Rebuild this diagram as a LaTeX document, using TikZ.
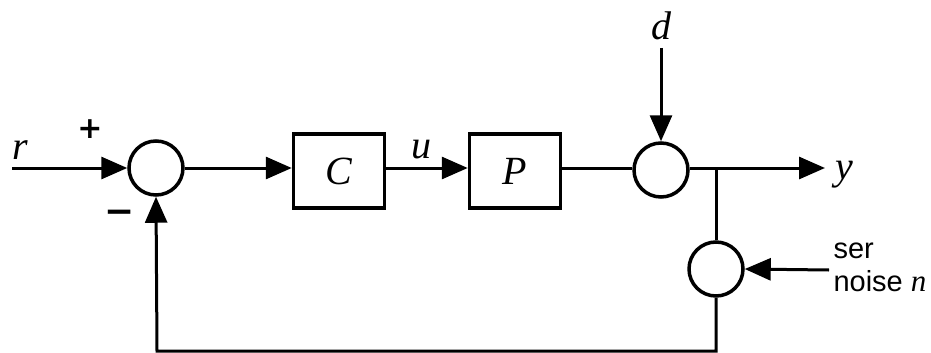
\documentclass[tikz,border=0pt]{standalone}
\usepackage{fontspec}
\setmainfont{Liberation Serif}
\newfontfamily\lsans{Liberation Sans}
\newfontfamily\dvsb{DejaVu Sans Bold}
\usetikzlibrary{arrows.meta}
\begin{document}
\begin{tikzpicture}[x=1pt,y=-1pt,
  line width=3pt,
  sumj/.style={circle,draw,line width=3.5pt,minimum size=54pt,inner sep=0pt},
  blk/.style={rectangle,draw,line width=3.5pt,minimum width=91pt,minimum height=74pt,inner sep=0pt,font=\fontsize{40}{48}\selectfont\itshape},
  lbl/.style={font=\fontsize{40}{48}\selectfont\itshape,inner sep=0pt},
  sgn/.style={font=\fontsize{30}{36}\selectfont\dvsb,inner sep=0pt},
  arr/.style={-{Triangle[length=26pt,width=22pt]}}]
\useasboundingbox (0,0) rectangle (931,353);
\node[sumj] (s1) at (156,168) {};
\node[blk] (C) at (339,171) {C};
\node[blk] (P) at (515,171) {P};
\node[sumj] (s2) at (661,170) {};
\node[sumj] (s3) at (716,269) {};
\coordinate (rin) at (12,168);
\coordinate (din) at (661,48);
\coordinate (br) at (716,168);
\coordinate (yout) at (825,168);
\coordinate (nin) at (829,270);
\coordinate (fb1) at (716,351);
\coordinate (fb2) at (157,351);
\draw[arr] (rin) -- (s1.west);
\draw[arr] (s1.east) -- (C.west |- s1.east);
\draw[arr] (C.east |- s1.east) -- (P.west |- s1.east);
\draw (P.east |- s1.east) -- (s2.west |- s1.east);
\draw[arr] (din) -- (s2.north);
\draw[arr] (s2.east |- br) -- (yout);
\draw (br) -- (s3.north);
\draw[arr] (nin) -- (s3.east);
\draw[arr] (s3.south) -- (fb1) -- (fb2) -- (s1.south);
\node[lbl] (r) at (20,150) {r};
\node[sgn] (plus) at (90,129) {+};
\node[sgn,font=\fontsize{36}{40}\selectfont\dvsb] (minus) at (120,217) {−};
\node[lbl] (u) at (421,150) {u};
\node[lbl] (d) at (661,26) {d};
\node[lbl,anchor=west] (y) at (834,175) {y};
\node[anchor=west,inner sep=0pt,font=\fontsize{29}{34}\selectfont\lsans] (ser) at (832,251) {ser};
\node[anchor=west,inner sep=0pt,font=\fontsize{29}{34}\selectfont\lsans] (noise) at (832,281) {noise \fontsize{31}{34}\selectfont\rmfamily\itshape n};
\end{tikzpicture}
\end{document}
